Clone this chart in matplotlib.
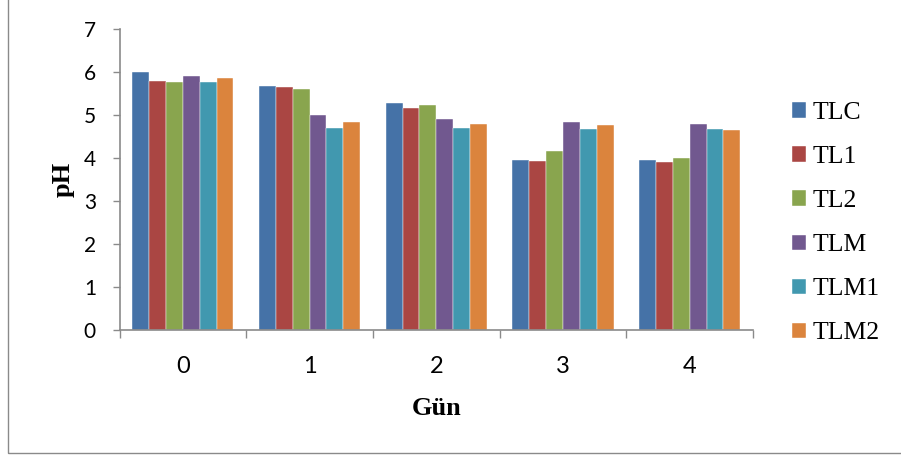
import matplotlib
matplotlib.use("Agg")
import matplotlib.pyplot as plt
import numpy as np
from matplotlib.patches import Rectangle

days = ["0", "1", "2", "3", "4"]
series_names = ["TLC", "TL1", "TL2", "TLM", "TLM1", "TLM2"]
TLC = [5.99, 5.67, 5.29, 3.96, 3.95]
TL1 = [5.79, 5.66, 5.17, 3.94, 3.90]
TL2 = [5.77, 5.60, 5.24, 4.17, 4.01]
TLM = [5.91, 5.00, 4.90, 4.83, 4.80]
TLM1 = [5.78, 4.71, 4.69, 4.67, 4.67]
TLM2 = [5.85, 4.85, 4.80, 4.77, 4.66]
series_values = [TLC, TL1, TL2, TLM, TLM1, TLM2]
colors = ["#4572A7", "#AA4643", "#89A54E", "#71588F", "#4198AF", "#DB843D"]

W, H = 901, 457
fig = plt.figure(figsize=(W / 100, H / 100), dpi=100)

# outer chart border
fig.patches.append(Rectangle((8 / W, 4 / H), 1.2, 1.2, transform=fig.transFigure,
                             fill=False, edgecolor="#8a8a8a", linewidth=1.0))

left, right, top, bottom = 119.6, 753, 29, 330.3
ax = fig.add_axes([left / W, (H - bottom) / H, (right - left) / W, (bottom - top) / H])

x = np.arange(len(days))
w = 0.133
for i, (name, vals) in enumerate(zip(series_names, series_values)):
    ax.bar(x + (i - 2.5) * w, vals, width=w, color=colors[i], label=name,
           edgecolor="white", linewidth=0.3)

ax.set_xlim(-0.5, 4.5)
ax.set_ylim(0, 7)
ax.set_yticks(range(0, 8))
ax.set_xticks(x)
ax.set_xticklabels(days)
ax.set_xticks(np.arange(-0.5, 5.0, 1.0), minor=True)

for s in ["top", "right"]:
    ax.spines[s].set_visible(False)
for s in ["left", "bottom"]:
    ax.spines[s].set_color("#8a8a8a")
    ax.spines[s].set_linewidth(1.2)

tickfont = "Lato"
ax.tick_params(axis="y", which="major", direction="out", length=5, width=1, color="#8a8a8a",
               labelsize=15, pad=12)
ax.tick_params(axis="x", which="major", length=0, labelsize=17, pad=18.5)
ax.tick_params(axis="x", which="minor", direction="out", length=6, width=1, color="#8a8a8a")
for lab in ax.get_xticklabels() + ax.get_yticklabels():
    lab.set_fontfamily(tickfont)

ax.set_ylabel("pH", fontfamily="Liberation Serif", fontweight="bold", fontsize=19,
              va="center", ha="center")
ax.yaxis.set_label_coords(-(119.6 - 63) / (753 - 119.6), 0.5)
ax.set_xlabel("Gün", fontfamily="Liberation Serif", fontweight="bold", fontsize=19,
              va="baseline")
ax.xaxis.set_label_coords(0.5, -(415 - 330.3) / (330.3 - 29))

leg = fig.legend(loc="upper left", bbox_to_anchor=(792 / W, (H - 102) / H),
                 frameon=False, prop={"family": "Liberation Serif", "size": 18.5},
                 handlelength=0.545, handleheight=0.545, handletextpad=0.26,
                 labelspacing=0.86, borderpad=0, borderaxespad=0)

fig.savefig("out.png", dpi=100)
